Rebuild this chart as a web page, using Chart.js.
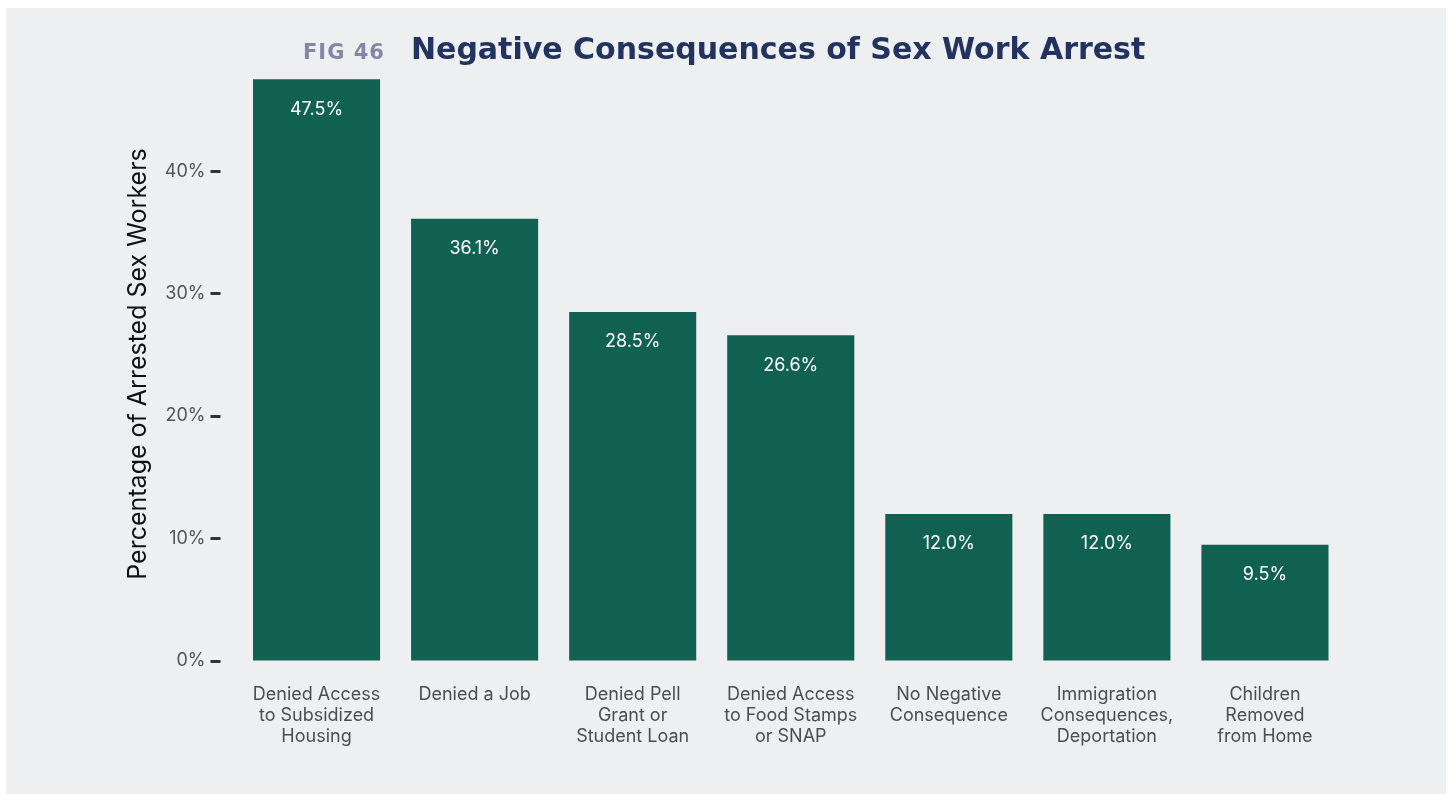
<!DOCTYPE html>
<html>
<head>
<meta charset="utf-8">
<script src="https://cdn.jsdelivr.net/npm/chart.js@4.4.1/dist/chart.umd.min.js"></script>
<style>
  html, body { margin: 0; padding: 0; background: #ffffff; }
  .panel {
    position: absolute; left: 6px; top: 8px; width: 1440px; height: 786px;
    background: #eeeff1;
  }
  .title {
    position: absolute; left: 297px; top: 23px; white-space: nowrap;
    font-family: "DejaVu Sans", sans-serif; font-weight: bold;
  }
  .title .fig { color: #8586a5; font-size: 21px; letter-spacing: 1px; margin-right: 26px; }
  .title .main { color: #23335f; font-size: 30px; letter-spacing: 0; }
  canvas { position: absolute; left: 0; top: 0; }
</style>
</head>
<body>
<div class="panel">
  <canvas id="chart" width="1440" height="786"></canvas>
  <div class="title"><span class="fig">FIG 46</span><span class="main">Negative Consequences of Sex Work Arrest</span></div>
</div>
<script>
const categories = [
  ['Denied Access', 'to Subsidized', 'Housing'],
  ['Denied a Job'],
  ['Denied Pell', 'Grant or', 'Student Loan'],
  ['Denied Access', 'to Food Stamps', 'or SNAP'],
  ['No Negative', 'Consequence'],
  ['Immigration', 'Consequences,', 'Deportation'],
  ['Children', 'Removed', 'from Home'],
];
const percentages = [47.5, 36.1, 28.5, 26.6, 12.0, 12.0, 9.5];
const yTickValues = [0, 10, 20, 30, 40];

const BAR_COLOR = '#116153';
const FONT = 'Inter, "Noto Sans", sans-serif';

const barValueLabels = {
  id: 'barValueLabels',
  afterDatasetsDraw(chart) {
    const ctx = chart.ctx;
    const meta = chart.getDatasetMeta(0);
    ctx.save();
    ctx.fillStyle = '#ffffff';
    ctx.font = '18px ' + FONT;
    ctx.textAlign = 'center';
    ctx.textBaseline = 'middle';
    meta.data.forEach((bar, i) => {
      ctx.fillText(percentages[i].toFixed(1) + '%', bar.x, bar.y + 30);
    });
    ctx.restore();
  },
};

new Chart(document.getElementById('chart'), {
  type: 'bar',
  data: {
    labels: categories,
    datasets: [{
      data: percentages,
      backgroundColor: BAR_COLOR,
      borderWidth: 0,
      barPercentage: 0.804,
      categoryPercentage: 1,
    }],
  },
  options: {
    responsive: false,
    animation: false,
    layout: { padding: { left: 117, right: 102, top: 59, bottom: 0 } },
    plugins: { legend: { display: false }, tooltip: { enabled: false } },
    scales: {
      x: {
        grid: { display: false },
        border: { display: false },
        ticks: {
          color: '#4d4d4d',
          font: { family: FONT, size: 18, lineHeight: 1.17 },
          padding: 15,
          maxRotation: 0,
          autoSkip: false,
        },
        afterFit: (scale) => { scale.height = 133; },
      },
      y: {
        min: 0,
        max: 48.5,
        afterBuildTicks: (scale) => { scale.ticks = yTickValues.map((value) => ({ value })); },
        grid: {
          drawOnChartArea: false,
          drawTicks: true,
          tickLength: 27,
          tickWidth: 3,
          tickColor: '#333333',
          tickBorderDash: [10, 40],
        },
        border: { display: false },
        ticks: {
          color: '#555555',
          font: { family: FONT, size: 18 },
          padding: 5,
          callback: (value) => value + '%',
        },
        title: {
          display: true,
          text: 'Percentage of Arrested Sex Workers',
          color: '#111111',
          font: { family: FONT, size: 25 },
          padding: 0,
        },
        afterFit: (scale) => { scale.width = 114.5; },
      },
    },
  },
  plugins: [barValueLabels],
});
</script>
</body>
</html>
